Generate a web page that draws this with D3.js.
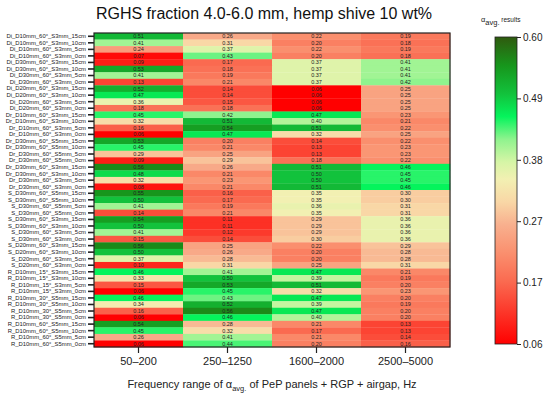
<!DOCTYPE html>
<html>
<head>
<meta charset="UTF-8" />
<title>RGHS heatmap</title>
<script src="https://d3js.org/d3.v7.min.js"></script>
<style>
  body { margin: 0; background: #fff; font-family: "Liberation Sans", Arial, sans-serif; }
  .cell-label { font-size: 5.5px; fill: #222; }
  .ytick text { font-size: 5.9px; fill: #222; font-family: "Liberation Sans", Arial, sans-serif; }
</style>
</head>
<body>
<svg id="chart" width="550" height="396"></svg>
<script>
// row labels (top to bottom)
var rows = [
  "Di_D10mm_60°_S3mm_15cm", "Di_D10mm_60°_S3mm_10cm", "Di_D10mm_60°_S3mm_5cm", "Di_D10mm_60°_S3mm_0cm",
  "Di_D30mm_60°_S3mm_15cm", "Di_D30mm_60°_S3mm_10cm", "Di_D30mm_60°_S3mm_5cm", "Di_D30mm_60°_S3mm_0cm",
  "Di_D20mm_60°_S3mm_15cm", "Di_D20mm_60°_S3mm_10cm", "Di_D20mm_60°_S3mm_5cm", "Di_D20mm_60°_S3mm_0cm",
  "Dr_D10mm_60°_S3mm_15cm", "Dr_D10mm_60°_S3mm_10cm", "Dr_D10mm_60°_S3mm_5cm", "Dr_D10mm_60°_S3mm_0cm",
  "Dr_D30mm_60°_S5mm_15cm", "Dr_D30mm_60°_S5mm_10cm", "Dr_D30mm_60°_S5mm_5cm", "Dr_D30mm_60°_S5mm_0cm",
  "Dr_D30mm_60°_S3mm_15cm", "Dr_D30mm_60°_S3mm_10cm", "Dr_D30mm_60°_S3mm_5cm", "Dr_D30mm_60°_S3mm_0cm",
  "S_D30mm_60°_S5mm_15cm", "S_D30mm_60°_S5mm_10cm", "S_D30mm_60°_S5mm_5cm", "S_D30mm_60°_S5mm_0cm",
  "S_D30mm_60°_S3mm_15cm", "S_D30mm_60°_S3mm_10cm", "S_D30mm_60°_S3mm_5cm", "S_D30mm_60°_S3mm_0cm",
  "S_D20mm_60°_S3mm_15cm", "S_D20mm_60°_S3mm_10cm", "S_D20mm_60°_S3mm_5cm", "S_D20mm_60°_S3mm_0cm",
  "R_D10mm_15°_S3mm_15cm", "R_D10mm_15°_S3mm_10cm", "R_D10mm_15°_S3mm_5cm", "R_D10mm_15°_S3mm_0cm",
  "R_D10mm_30°_S5mm_15cm", "R_D10mm_30°_S5mm_10cm", "R_D10mm_30°_S5mm_5cm", "R_D10mm_30°_S5mm_0cm",
  "R_D10mm_60°_S5mm_15cm", "R_D10mm_60°_S5mm_10cm", "R_D10mm_60°_S5mm_5cm", "R_D10mm_60°_S5mm_0cm"
];

// frequency ranges (columns)
var freqs = ["50–200", "250–1250", "1600–2000", "2500–5000"];

// alpha avg. values, one array per column, in row order
var f50_200 = [0.51, 0.41, 0.24, 0.07, 0.09, 0.53, 0.41, 0.13, 0.52, 0.47, 0.36, 0.18,
               0.45, 0.32, 0.16, 0.06, 0.53, 0.45, 0.29, 0.09, 0.56, 0.48, 0.32, 0.08,
               0.55, 0.50, 0.41, 0.14, 0.54, 0.50, 0.41, 0.15, 0.56, 0.50, 0.37, 0.10,
               0.46, 0.33, 0.15, 0.06, 0.46, 0.34, 0.16, 0.06, 0.54, 0.45, 0.26, 0.06];
var f250_1250 = [0.26, 0.31, 0.37, 0.43, 0.17, 0.18, 0.19, 0.21, 0.14, 0.14, 0.15, 0.18,
                 0.42, 0.51, 0.54, 0.47, 0.20, 0.21, 0.25, 0.29, 0.26, 0.21, 0.23, 0.21,
                 0.16, 0.17, 0.19, 0.21, 0.11, 0.11, 0.12, 0.14, 0.25, 0.26, 0.28, 0.31,
                 0.41, 0.50, 0.53, 0.45, 0.43, 0.52, 0.56, 0.46, 0.28, 0.32, 0.41, 0.44];
var f1600_2000 = [0.22, 0.20, 0.22, 0.20, 0.37, 0.37, 0.37, 0.37, 0.06, 0.06, 0.06, 0.06,
                  0.47, 0.40, 0.51, 0.32, 0.14, 0.13, 0.13, 0.18, 0.51, 0.50, 0.50, 0.51,
                  0.35, 0.35, 0.36, 0.35, 0.29, 0.29, 0.29, 0.30, 0.22, 0.20, 0.20, 0.25,
                  0.47, 0.39, 0.51, 0.32, 0.47, 0.39, 0.47, 0.40, 0.21, 0.17, 0.21, 0.20];
var f2500_5000 = [0.19, 0.18, 0.19, 0.18, 0.41, 0.41, 0.41, 0.42, 0.25, 0.25, 0.25, 0.25,
                  0.23, 0.21, 0.22, 0.25, 0.22, 0.23, 0.23, 0.22, 0.46, 0.45, 0.45, 0.46,
                  0.30, 0.30, 0.31, 0.31, 0.36, 0.36, 0.36, 0.36, 0.29, 0.28, 0.28, 0.31,
                  0.21, 0.19, 0.20, 0.23, 0.20, 0.19, 0.20, 0.20, 0.13, 0.13, 0.14, 0.16];
var columns = [f50_200, f250_1250, f1600_2000, f2500_5000];

// colour bar tick labels
var cbTicks = ["0.60", "0.49", "0.38", "0.27", "0.17", "0.06"];

// colour map stops
var stopVals = [0.06, 0.12, 0.17, 0.22, 0.27, 0.31, 0.35, 0.38, 0.42, 0.46, 0.50, 0.55, 0.60];
var stopCols = ["#ff0000", "#fc3a2c", "#fa6a50", "#fa8f6e", "#f8b08e", "#f9d7a6", "#f2f0b2",
                "#d6f5a6", "#8ff38e", "#05f45c", "#12c23c", "#17961c", "#2f5a0f"];

var cells = [];
rows.forEach(function (r, i) {
  freqs.forEach(function (f, j) {
    cells.push({ row: r, col: f, v: columns[j][i] });
  });
});

var svg = d3.select("#chart");
var margin = { left: 94, right: 100, top: 33, bottom: 49 };
var W = 550, H = 396;

var x = d3.scaleBand().domain(freqs).range([margin.left, W - margin.right]);
var y = d3.scaleBand().domain(rows).range([margin.top, H - margin.bottom]);
var color = d3.scaleLinear().domain(stopVals).range(stopCols).clamp(true);

// cells
svg.append("g").selectAll("rect")
  .data(cells).enter().append("rect")
  .attr("x", function (d) { return x(d.col); })
  .attr("y", function (d) { return y(d.row); })
  .attr("width", x.bandwidth() + 0.3)
  .attr("height", y.bandwidth() + 0.3)
  .attr("fill", function (d) { return color(d.v); });

svg.append("g").selectAll("text")
  .data(cells).enter().append("text")
  .attr("class", "cell-label")
  .attr("x", function (d) { return x(d.col) + x.bandwidth() / 2; })
  .attr("y", function (d) { return y(d.row) + y.bandwidth() / 2; })
  .attr("dy", "0.35em")
  .attr("text-anchor", "middle")
  .text(function (d) { return d.v.toFixed(2); });

// frame
svg.append("rect")
  .attr("x", margin.left).attr("y", margin.top)
  .attr("width", W - margin.right - margin.left)
  .attr("height", H - margin.bottom - margin.top)
  .attr("fill", "none").attr("stroke", "#222").attr("stroke-width", 1.2);

// y axis
var yAxis = svg.append("g").attr("class", "ytick")
  .attr("transform", "translate(" + margin.left + ",0)")
  .call(d3.axisLeft(y).tickSize(6).tickPadding(2));
yAxis.select(".domain").remove();
yAxis.selectAll("line").attr("stroke", "#222").attr("stroke-width", 1.6);

// x axis
var xAxis = svg.append("g")
  .attr("transform", "translate(0," + (H - margin.bottom) + ")")
  .call(d3.axisBottom(x).tickSize(6).tickPadding(4));
xAxis.select(".domain").remove();
xAxis.selectAll("line").attr("stroke", "#222").attr("stroke-width", 1.2);
xAxis.selectAll("text").style("font-size", "11px").attr("fill", "#222")
  .style("font-family", "Liberation Sans, Arial, sans-serif");

// x label
var xl = svg.append("text")
  .attr("x", (margin.left + W - margin.right) / 2).attr("y", 388)
  .attr("text-anchor", "middle").style("font-size", "11px").attr("fill", "#222");
xl.append("tspan").text("Frequency range of α");
xl.append("tspan").attr("dy", 3).style("font-size", "7.5px").text("avg.");
xl.append("tspan").attr("dy", -3).text(" of PeP panels + RGP + airgap, Hz");

// title
svg.append("text")
  .attr("x", (margin.left + W - margin.right) / 2 - 8).attr("y", 19)
  .attr("text-anchor", "middle").style("font-size", "16px").attr("fill", "#111")
  .text("RGHS fraction 4.0-6.0 mm, hemp shive 10 wt%");

// colour bar
var cb = { x: 495, w: 22, top: 37, bottom: 344 };
var defs = svg.append("defs");
var grad = defs.append("linearGradient").attr("id", "cbgrad")
  .attr("x1", 0).attr("y1", 1).attr("x2", 0).attr("y2", 0);
stopVals.forEach(function (v, i) {
  grad.append("stop")
    .attr("offset", ((v - 0.06) / 0.54 * 100) + "%")
    .attr("stop-color", stopCols[i]);
});
svg.append("rect")
  .attr("x", cb.x).attr("y", cb.top)
  .attr("width", cb.w).attr("height", cb.bottom - cb.top)
  .attr("fill", "url(#cbgrad)").attr("stroke", "#222").attr("stroke-width", 0.8);

var cbAxis = svg.append("g")
  .attr("transform", "translate(" + (cb.x + cb.w) + ",0)")
  .call(d3.axisRight(d3.scalePoint().domain(cbTicks).range([cb.top, cb.bottom]))
    .tickSize(4).tickPadding(2));
cbAxis.select(".domain").remove();
cbAxis.selectAll("line").attr("stroke", "#222");
cbAxis.selectAll("text").style("font-size", "10px").attr("fill", "#222")
  .style("font-family", "Liberation Sans, Arial, sans-serif");

var ct = svg.append("text").attr("x", 481).attr("y", 22)
  .style("font-size", "7.5px").attr("fill", "#222");
ct.append("tspan").text("α");
ct.append("tspan").attr("dy", 2.5).style("font-size", "7.5px").text("avg.");
ct.append("tspan").attr("dy", -2.5).style("font-size", "6.5px").text(" results");
</script>
</body>
</html>
